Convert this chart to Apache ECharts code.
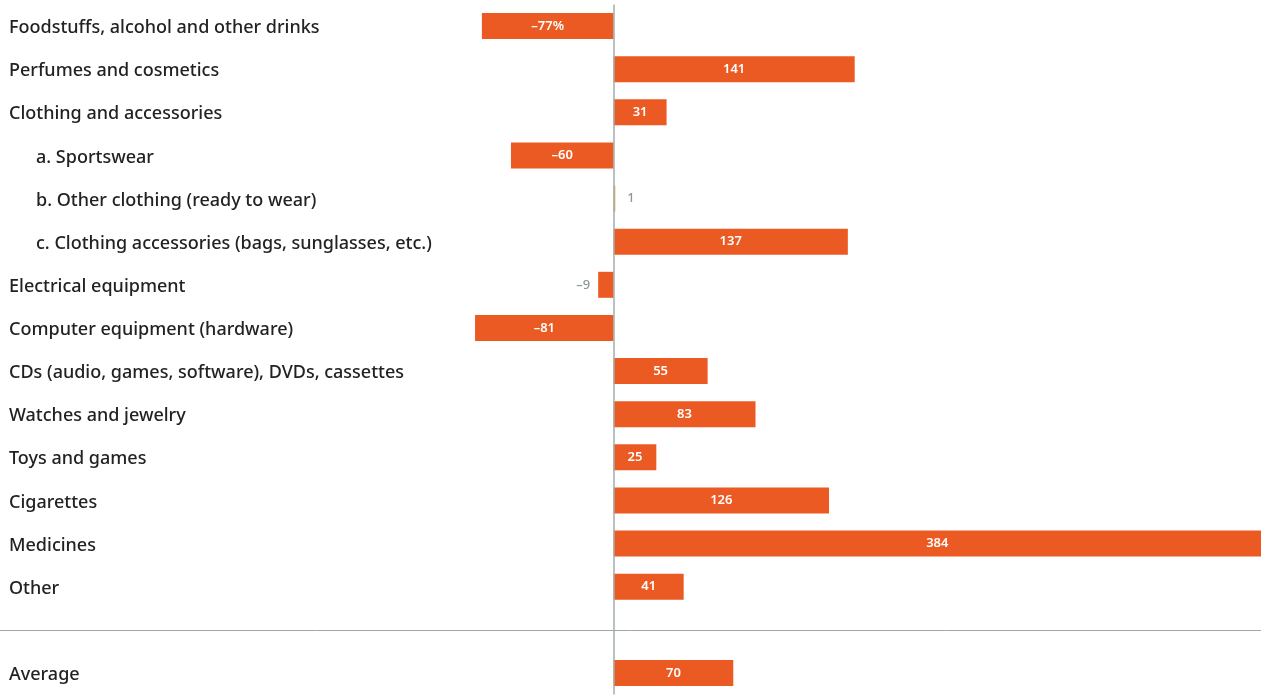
<!DOCTYPE html>
<html>
<head>
<meta charset="utf-8">
<script src="https://cdn.jsdelivr.net/npm/echarts@6/dist/echarts.min.js"></script>
<style>
html,body{margin:0;padding:0;background:#fff;}
#chart{width:1261px;height:696px;}
</style>
</head>
<body>
<div id="chart"></div>
<script>
const categories = [
  'Foodstuffs, alcohol and other drinks',
  'Perfumes and cosmetics',
  'Clothing and accessories',
  'a. Sportswear',
  'b. Other clothing (ready to wear)',
  'c. Clothing accessories (bags, sunglasses, etc.)',
  'Electrical equipment',
  'Computer equipment (hardware)',
  'CDs (audio, games, software), DVDs, cassettes',
  'Watches and jewelry',
  'Toys and games',
  'Cigarettes',
  'Medicines',
  'Other',
  '',
  'Average'
];
const values = [-77, 141, 31, -60, 1, 137, -9, -81, 55, 83, 25, 126, 384, 41, null, 70];
const valueSuffix = ['%', '', '', '', '', '', '', '', '', '', '', '', '', '', '', ''];

const chart = echarts.init(document.getElementById('chart'));
const FONT = '"Noto Sans", sans-serif';

const seriesData = values.map((v, i) => {
  if (v === null) return { value: null };
  const small = Math.abs(v) < 15;
  return {
    value: v,
    itemStyle: small && Math.abs(v) < 3 ? { color: '#e9a035' } : undefined,
    label: small ? {
      position: v < 0 ? 'left' : 'right',
      color: '#8c9898',
      fontWeight: 500,
      distance: v < 0 ? 8 : 12
    } : undefined
  };
});

chart.setOption({
  animation: false,
  grid: { left: 0, right: 0, top: 4.5, bottom: 1.5, containLabel: false },
  xAxis: {
    type: 'value',
    min: -358.8,
    max: 378.6,
    show: false
  },
  yAxis: {
    type: 'category',
    inverse: true,
    data: categories,
    axisLine: { show: false },
    axisTick: { show: false },
    splitLine: { show: false },
    axisLabel: {
      inside: true,
      margin: 9,
      align: 'left',
      fontFamily: FONT,
      fontSize: 18,
      fontWeight: 500,
      color: '#222222',
      formatter: function (val) {
        if (/^[abc]\. /.test(val)) return '{sub|' + val + '}';
        return '{main|' + val + '}';
      },
      rich: {
        main: { fontFamily: FONT, fontSize: 18, fontWeight: 500, color: '#222222', padding: [4, 0, 0, 0] },
        sub: { fontFamily: FONT, fontSize: 18, fontWeight: 500, color: '#222222', padding: [4, 0, 0, 27] }
      }
    }
  },
  series: [{
    type: 'bar',
    data: seriesData,
    barWidth: 26,
    clip: true,
    itemStyle: { color: '#ec5a24' },
    label: {
      show: true,
      position: 'inside',
      color: '#ffffff',
      fontFamily: FONT,
      fontSize: 13,
      fontWeight: 600,
      formatter: function (p) {
        if (p.value === null || p.value === undefined) return '';
        const v = p.value;
        const s = (v < 0 ? '\u2013' + Math.abs(v) : String(v));
        return s + valueSuffix[p.dataIndex];
      }
    },
    markLine: {
      silent: true,
      symbol: 'none',
      label: { show: false },
      data: [
        { xAxis: 0, lineStyle: { color: '#a3acac', width: 1.5, type: 'solid' } },
        { yAxis: 14, lineStyle: { color: '#9ea8a8', width: 1, type: 'solid' } }
      ]
    }
  }]
});
</script>
</body>
</html>
